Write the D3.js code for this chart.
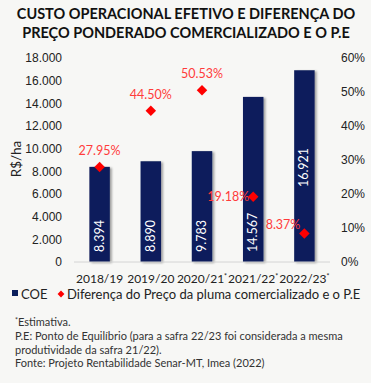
<!DOCTYPE html>
<html>
<head>
<meta charset="utf-8">
<script src="https://cdn.jsdelivr.net/npm/d3@7"></script>
<style>
  body { margin: 0; background: #f7f7f5; }
  svg { display: block; font-family: Lato, "Open Sans", sans-serif; }
</style>
</head>
<body>
<script>
var safras = ["2018/19", "2019/20", "2020/21", "2021/22", "2022/23"];
var estimativa = [false, false, true, true, true];
var coe = [8394, 8890, 9783, 14567, 16921];
var diferenca = [27.95, 44.50, 50.53, 19.18, 8.37];
var leftTicks = [0, 2000, 4000, 6000, 8000, 10000, 12000, 14000, 16000, 18000];
var rightTicks = [0, 10, 20, 30, 40, 50, 60];

var W = 371, H = 383;
var margin = {top: 58, right: 41, bottom: 121, left: 74},
    width = W - margin.left - margin.right,
    height = H - margin.top - margin.bottom;

var navy = "#0b1f5c", red = "#ff0000", redText = "#ff3b3b";

var svg = d3.select("body").append("svg")
    .attr("width", W)
    .attr("height", H);

var defs = svg.append("defs");
var f = defs.append("filter").attr("id", "shadow")
    .attr("x", "-20%").attr("y", "-10%").attr("width", "160%").attr("height", "130%");
f.append("feDropShadow").attr("dx", 2).attr("dy", 1).attr("stdDeviation", 1.2)
    .attr("flood-color", "#000").attr("flood-opacity", 0.35);

// title
var title = svg.append("text")
    .attr("x", 186).attr("y", 19)
    .attr("text-anchor", "middle")
    .style("font-weight", "bold")
    .style("font-size", "14.5px")
    .style("fill", "#111");
title.append("tspan").attr("x", 186).attr("dy", 0).text("CUSTO OPERACIONAL EFETIVO E DIFERENÇA DO");
title.append("tspan").attr("x", 186).attr("dy", 19).text("PREÇO PONDERADO COMERCIALIZADO E O P.E");

var g = svg.append("g")
    .attr("transform", "translate(" + margin.left + "," + margin.top + ")");

var x = d3.scaleBand().domain(safras).range([0, width]).paddingInner(0.6).paddingOuter(0.3);
var y = d3.scaleLinear().domain([0, 18000]).range([height, 0]);
var y2 = d3.scaleLinear().domain([0, 60]).range([height, 0]);

var fmt = function(v) { return d3.format(",")(v).replace(/,/g, "."); };

// left axis
var yAxis = g.append("g")
    .call(d3.axisLeft(y).tickValues(leftTicks).tickSize(0).tickPadding(12).tickFormat(fmt));
yAxis.select(".domain").remove();
yAxis.selectAll("text").style("font-size", "12px").style("fill", "#222").attr("font-family", null);

// right axis
var yAxis2 = g.append("g")
    .attr("transform", "translate(" + width + ",0)")
    .call(d3.axisRight(y2).tickValues(rightTicks).tickSize(0).tickPadding(11).tickFormat(function(d) { return d + "%"; }));
yAxis2.select(".domain").remove();
yAxis2.selectAll("text").style("font-size", "12px").style("fill", "#222").attr("font-family", null);

// y title
svg.append("text")
    .attr("transform", "translate(21," + (margin.top + 101) + ") rotate(-90)")
    .attr("text-anchor", "middle")
    .style("font-size", "13.5px")
    .style("fill", "#222")
    .text("R$/ha");

// bars
g.selectAll("rect.bar")
    .data(coe)
  .enter().append("rect")
    .attr("class", "bar")
    .attr("x", function(d, i) { return x(safras[i]); })
    .attr("y", function(d) { return y(d); })
    .attr("width", x.bandwidth())
    .attr("height", function(d) { return height - y(d); })
    .attr("fill", navy)
    .attr("filter", "url(#shadow)");

// baseline
g.append("line")
    .attr("x1", 0).attr("x2", width)
    .attr("y1", height).attr("y2", height)
    .attr("stroke", "#d4d4d4");

// bar values (rotated)
g.selectAll("text.val")
    .data(coe)
  .enter().append("text")
    .attr("class", "val")
    .attr("transform", function(d, i) {
      var cx = x(safras[i]) + x.bandwidth() / 2 + 4;
      var yy = i === 4 ? (y(d) + height) / 2 + 21 : height - 10;
      return "translate(" + cx + "," + yy + ") rotate(-90)";
    })
    .attr("text-anchor", "start")
    .style("font-size", "12.5px")
    .style("fill", "#fff")
    .text(fmt);

// diamonds
var diamond = d3.symbol().type(d3.symbolDiamond2).size(70);
g.selectAll("path.pt")
    .data(diferenca)
  .enter().append("path")
    .attr("class", "pt")
    .attr("d", diamond)
    .attr("transform", function(d, i) {
      return "translate(" + (x(safras[i]) + x.bandwidth() / 2) + "," + y2(d) + ")";
    })
    .attr("fill", red);

// percentage labels
g.selectAll("text.pct")
    .data(diferenca)
  .enter().append("text")
    .attr("class", "pct")
    .attr("x", function(d, i) {
      var cx = x(safras[i]) + x.bandwidth() / 2;
      return i < 3 ? cx : cx - 4;
    })
    .attr("y", function(d, i) {
      if (i < 3) return y2(d) - 12;
      if (i === 3) return y2(d) + 4;
      return y2(d) - 5;
    })
    .attr("text-anchor", function(d, i) { return i < 3 ? "middle" : "end"; })
    .style("font-size", "12.5px")
    .style("fill", redText)
    .text(function(d) { return d.toFixed(2) + "%"; });

// x labels
var xl = g.selectAll("text.xl")
    .data(safras)
  .enter().append("text")
    .attr("class", "xl")
    .attr("x", function(d) { return x(d) + x.bandwidth() / 2; })
    .attr("y", height + 21)
    .attr("text-anchor", "middle")
    .style("font-size", "12px")
    .style("fill", "#222");
xl.append("tspan").text(function(d) { return d; });
xl.append("tspan")
    .attr("dy", -4)
    .style("font-size", "7px")
    .text(function(d, i) { return estimativa[i] ? "*" : ""; });

// legend
var lg = svg.append("g").attr("transform", "translate(0,299)");
lg.append("rect").attr("x", 12).attr("y", -9).attr("width", 6).attr("height", 6).attr("fill", navy);
lg.append("text").attr("x", 21).attr("y", 0).style("font-size", "13px").style("fill", "#222").text("COE");
lg.append("path").attr("d", d3.symbol().type(d3.symbolDiamond2).size(30))
    .attr("transform", "translate(61,-5)").attr("fill", red);
lg.append("text").attr("x", 67).attr("y", 0).style("font-size", "13px").style("fill", "#222")
    .text("Diferença do Preço da pluma comercializado e o P.E");

// notes
var notes = svg.append("g").style("font-size", "11px").style("fill", "#333");
var n1 = notes.append("text").attr("x", 15).attr("y", 326);
n1.append("tspan").attr("dy", -3).style("font-size", "7px").text("*");
n1.append("tspan").attr("dy", 3).text("Estimativa.");
notes.append("text").attr("x", 15).attr("y", 340)
    .text("P.E: Ponto de Equilíbrio (para a safra 22/23 foi considerada a mesma");
notes.append("text").attr("x", 15).attr("y", 354)
    .text("produtividade da safra 21/22).");
notes.append("text").attr("x", 15).attr("y", 367)
    .text("Fonte: Projeto Rentabilidade Senar-MT, Imea (2022)");
</script>
</body>
</html>
